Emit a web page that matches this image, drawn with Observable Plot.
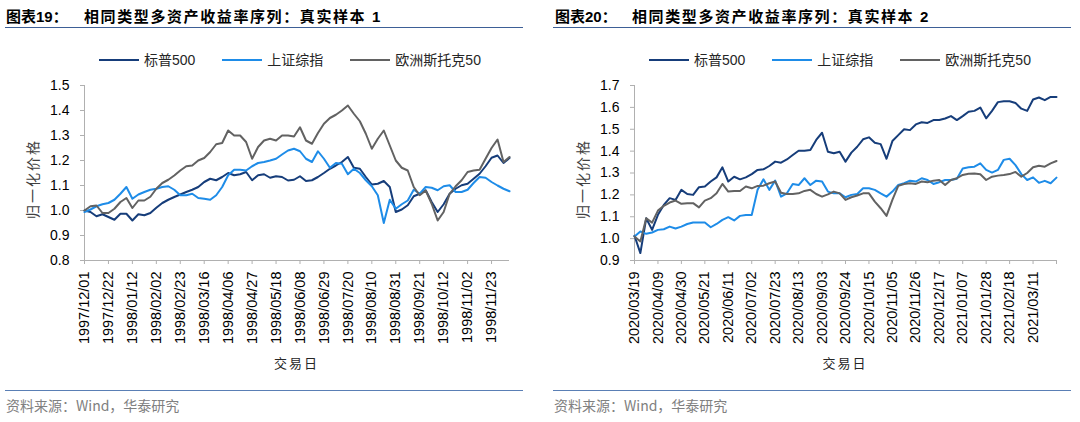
<!DOCTYPE html>
<html><head><meta charset="utf-8">
<script src="https://cdn.jsdelivr.net/npm/d3@7"></script>
<script src="https://cdn.jsdelivr.net/npm/@observablehq/plot@0.6"></script>
<style>
body{margin:0;background:#fff;}
#root{position:relative;width:1080px;height:422px;overflow:hidden;background:#fff;font-family:"Liberation Sans",Arial,"Noto Sans CJK SC",sans-serif;}
.abs{position:absolute;white-space:nowrap;}
.title{font-family:"Liberation Sans","Noto Sans CJK SC",sans-serif;font-weight:700;font-size:15px;color:#000;line-height:15px;}
.title .main{letter-spacing:1.6px;}
.rule{position:absolute;height:0;border-top:1.5px solid #3d5f96;}
.legend{position:absolute;display:flex;align-items:center;gap:27px;font-size:14px;color:#262626;font-family:"Liberation Sans","Noto Sans CJK SC",sans-serif;line-height:16px;}
.legend .item{display:flex;align-items:center;}
.legend .sw{width:40px;height:2.5px;margin-right:5px;}
.ytitle{font-family:"Noto Sans CJK SC",sans-serif;font-size:14px;letter-spacing:2px;color:#404040;transform:translate(-50%,-50%) rotate(-90deg);line-height:14px;}
.xtitle{font-family:"Noto Sans CJK SC",sans-serif;font-size:13px;letter-spacing:2px;color:#262626;transform:translate(-50%,-50%);line-height:13px;}
.source{font-family:"Noto Sans CJK SC","Liberation Sans",sans-serif;font-size:14px;color:#808080;line-height:14px;transform:translateY(-50%);}
.plot{position:absolute;top:70px;}
.plot svg g[aria-label="x-axis tick label"]{font-size:14.5px;}
</style>
</head><body><div id="root"></div>
<script>
const seriesNames = ["标普500", "上证综指", "欧洲斯托克50"];
const seriesColors = ["#163d7a", "#1e8ce8", "#626262"];

const leftDates = ["1997/12/01","1997/12/22","1998/01/12","1998/02/02","1998/02/23","1998/03/16","1998/04/06","1998/04/27","1998/05/18","1998/06/08","1998/06/29","1998/07/20","1998/08/10","1998/08/31","1998/09/21","1998/10/12","1998/11/02","1998/11/23"];
const rightDates = ["2020/03/19","2020/04/09","2020/04/30","2020/05/21","2020/06/11","2020/07/02","2020/07/23","2020/08/13","2020/09/03","2020/09/24","2020/10/15","2020/11/05","2020/11/26","2020/12/17","2021/01/07","2021/01/28","2021/02/18","2021/03/11"];

const leftYTicks = [0.8, 0.9, 1.0, 1.1, 1.2, 1.3, 1.4, 1.5];
const rightYTicks = [0.9, 1.0, 1.1, 1.2, 1.3, 1.4, 1.5, 1.6, 1.7];

// values sampled every quarter of a label interval
const leftSP = [1.00,0.994,0.977,0.985, 0.974,0.963,0.987,0.987, 0.96,0.985,0.981,0.99, 1.011,1.03,1.043,1.054, 1.064,1.074,1.083,1.094, 1.114,1.127,1.121,1.134, 1.15,1.141,1.145,1.154, 1.121,1.141,1.145,1.131, 1.137,1.134,1.12,1.123, 1.137,1.118,1.121,1.134, 1.15,1.167,1.18,1.194, 1.214,1.171,1.167,1.134, 1.104,1.107,1.118,1.094, 0.994,1.004,1.021,1.057, 1.067,1.081,1.034,0.994, 1.025,1.067,1.087,1.101, 1.107,1.127,1.147,1.177, 1.211,1.22,1.19,1.21];
const leftSH = [0.994,1.004,1.017,1.025, 1.03,1.043,1.067,1.094, 1.047,1.064,1.074,1.083, 1.087,1.094,1.097,1.083, 1.061,1.061,1.067,1.05, 1.047,1.043,1.061,1.094, 1.141,1.163,1.163,1.16, 1.177,1.19,1.194,1.20, 1.207,1.224,1.24,1.247, 1.237,1.207,1.194,1.237, 1.207,1.171,1.19,1.187, 1.145,1.167,1.15,1.121, 1.097,1.061,0.95,1.043, 1.007,1.025,1.04,1.083, 1.067,1.094,1.091,1.081, 1.097,1.101,1.074,1.074, 1.083,1.11,1.134,1.131, 1.114,1.10,1.087,1.077];
const leftEU = [1.00,1.017,1.02,0.99, 0.99,1.007,1.034,1.05, 1.01,1.04,1.04,1.055, 1.087,1.11,1.123,1.14, 1.16,1.177,1.18,1.20, 1.21,1.234,1.265,1.27, 1.32,1.30,1.30,1.274, 1.207,1.254,1.28,1.287, 1.28,1.30,1.30,1.296, 1.333,1.28,1.267,1.31, 1.347,1.37,1.383,1.40, 1.42,1.387,1.357,1.307, 1.247,1.287,1.32,1.26, 1.20,1.171,1.16,1.094, 1.061,1.08,1.027,0.96, 0.994,1.067,1.097,1.121, 1.154,1.16,1.163,1.207, 1.25,1.284,1.194,1.214];

const rightSP = [1.013,0.934,1.093,1.04, 1.109,1.154,1.185,1.177, 1.223,1.204,1.20,1.235, 1.238,1.261,1.28,1.326, 1.261,1.283,1.271,1.28, 1.295,1.314,1.317,1.332, 1.352,1.347,1.362,1.382, 1.402,1.402,1.405,1.451, 1.484,1.397,1.39,1.397, 1.352,1.393,1.42,1.454, 1.463,1.438,1.432,1.365, 1.446,1.473,1.50,1.496, 1.522,1.532,1.529,1.542, 1.542,1.549,1.56,1.542, 1.56,1.58,1.584,1.599, 1.55,1.584,1.624,1.628, 1.628,1.62,1.594,1.584, 1.636,1.645,1.633,1.648, 1.648];
const rightSH = [1.01,1.033,1.022,1.028, 1.04,1.043,1.055,1.046, 1.055,1.067,1.074,1.074, 1.074,1.052,1.067,1.086, 1.098,1.083,1.104,1.108, 1.108,1.223,1.271,1.223, 1.265,1.192,1.207,1.25, 1.245,1.276,1.245,1.265, 1.261,1.215,1.207,1.207, 1.189,1.20,1.204,1.23, 1.23,1.223,1.207,1.192, 1.215,1.245,1.253,1.265, 1.261,1.276,1.268,1.25, 1.258,1.268,1.268,1.274, 1.321,1.326,1.329,1.344, 1.314,1.302,1.314,1.36, 1.365,1.336,1.295,1.268, 1.28,1.255,1.264,1.253, 1.279];
const rightEU = [1.01,0.987,1.093,1.073, 1.128,1.15,1.165,1.174, 1.159,1.162,1.162,1.143, 1.174,1.185,1.207,1.25, 1.215,1.218,1.218,1.238, 1.23,1.241,1.242,1.253, 1.261,1.21,1.204,1.204, 1.207,1.218,1.223,1.204, 1.192,1.202,1.215,1.207, 1.177,1.189,1.197,1.207, 1.207,1.169,1.139,1.104, 1.177,1.241,1.25,1.253, 1.25,1.261,1.258,1.265, 1.268,1.245,1.268,1.276, 1.291,1.297,1.298,1.294, 1.268,1.283,1.288,1.291, 1.295,1.305,1.283,1.30, 1.326,1.333,1.329,1.344, 1.355];

const panels = [
  {left:0, title:"图表19：", main:"相同类型多资产收益率序列：真实样本 1", dates:leftDates, yTicks:leftYTicks,
   series:[leftSP,leftSH,leftEU], ml:84, mr:31, xEndTick:false},
  {left:540, title:"图表20：", main:"相同类型多资产收益率序列：真实样本 2", dates:rightDates, yTicks:rightYTicks,
   series:[rightSP,rightSH,rightEU], ml:94, mr:24, xEndTick:true}
];

const root = document.getElementById("root");
function el(cls, style, html){ const d=document.createElement("div"); d.className=cls; Object.assign(d.style, style); if(html!=null) d.innerHTML=html; root.appendChild(d); return d; }

panels.forEach((p, pi) => {
  const L = p.left;
  const titleX = pi===0 ? 6 : 555;
  const mainX = pi===0 ? 84 : 632;
  el("abs title", {left: titleX+"px", top:"9px"}, p.title);
  el("abs title", {left: mainX+"px", top:"9px"}, '<span class="main">'+p.main+'</span>');
  el("rule", {left:(pi===0?5:553)+"px", width:"518px", top:"27px"});
  const lg = el("legend", {left:(pi===0?99:649)+"px", top:"52px"});
  seriesNames.forEach((n,i)=>{
    const it=document.createElement("div"); it.className="item";
    it.innerHTML='<div class="sw" style="background:'+seriesColors[i]+'"></div><span>'+n+'</span>';
    lg.appendChild(it);
  });
  const data=[];
  p.series.forEach((vals, si) => vals.forEach((v,i)=>data.push({t:i/4, v, name:seriesNames[si]})));
  const n = p.series[0].length;
  const xmax = (n-1)/4;
  const ydom = [p.yTicks[0], p.yTicks[p.yTicks.length-1]];
  const xt = d3.range(p.dates.length); if(p.xEndTick) xt.push(p.dates.length);
  const chart = Plot.plot({
    width:540, height:300,
    marginLeft:p.ml, marginRight:p.mr, marginTop:15, marginBottom:110,
    style:{fontFamily:"Liberation Sans, Arial, sans-serif", fontSize:"14px", color:"#000", background:"transparent", overflow:"visible"},
    x:{type:"linear", domain:[0,xmax]},
    y:{domain:ydom},
    color:{domain:seriesNames, range:seriesColors},
    marks:[
      Plot.ruleX([0], {stroke:"#b0b0b0", strokeWidth:1}),
      Plot.ruleY([ydom[0]], {stroke:"#b0b0b0", strokeWidth:1}),
      Plot.axisY({ticks:p.yTicks, tickFormat:d3.format(".1f"), tickSize:4, tickPadding:11, stroke:"#b0b0b0", fill:"#000", label:null}),
      Plot.axisX({ticks:xt, tickFormat:i=>p.dates[i]??"", tickRotate:-90, tickSize:4, tickPadding:7, stroke:"#b0b0b0", fill:"#000", label:null, fontSize:14.5}),
      Plot.line(data, {x:"t", y:"v", z:"name", stroke:"name", strokeWidth:2, strokeLinejoin:"round", strokeLinecap:"round"})
    ]
  });
  const wrap = el("plot", {left:L+"px"}); wrap.appendChild(chart);
  const plotLeft = L + p.ml, plotRight = L + 540 - p.mr;
  el("abs ytitle", {left:(plotLeft-52)+"px", top:"179px"}, "归一化价格");
  el("abs xtitle", {left:((plotLeft+plotRight)/2)+"px", top:"362px"}, "交易日");
  el("rule", {left:(pi===0?5:553)+"px", width:"518px", top:"390px", borderTopColor:"#5a7fb5"});
  el("abs source", {left:(pi===0?6:554)+"px", top:"405px"}, "资料来源：Wind，华泰研究");
});
</script></body></html>
